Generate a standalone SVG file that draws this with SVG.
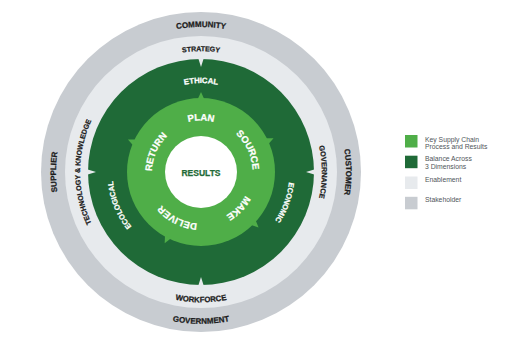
<svg xmlns="http://www.w3.org/2000/svg" xmlns:xlink="http://www.w3.org/1999/xlink" width="506" height="353" viewBox="0 0 506 353">
<style>
.lbl{font-family:"Liberation Sans",Arial,sans-serif;font-weight:bold;}
.dk{fill:#1c1c1c;stroke:#1c1c1c;stroke-width:0.25;}
.wh{fill:#ffffff;stroke:#ffffff;stroke-width:0.25;}
.leg{font-family:"Liberation Sans",Arial,sans-serif;font-size:6.8px;fill:#50555a;}
.stake{fill:#c8ccd1;}
.enab{fill:#e7eaed;}
.bal{fill:#1f6a37;}
.key{fill:#4fae48;}
</style>
<defs>
<path id="pCommunity" d="M56.1,159.3 A145.5,145.5 0 0 1 345.9,159.3"/>
<path id="pCustomer" d="M213.7,27.1 A145.5,145.5 0 0 1 213.7,316.9"/>
<path id="pSupplier" d="M188.3,316.9 A145.5,145.5 0 0 1 188.3,27.1"/>
<path id="pGovernment" d="M49.6,185.3 A152,152 0 0 0 352.4,185.3"/>
<path id="pStrategy" d="M80.2,161.4 A121.3,121.3 0 0 1 321.8,161.4"/>
<path id="pGovernance" d="M211.6,51.2 A121.3,121.3 0 0 1 211.6,292.8"/>
<path id="pTech" d="M190.4,292.8 A121.3,121.3 0 0 1 190.4,51.2"/>
<path id="pWorkforce" d="M71.2,183.4 A130.3,130.3 0 0 0 330.8,183.4"/>
<path id="pEthical" d="M112.8,164.3 A88.5,88.5 0 0 1 289.2,164.3"/>
<path id="pEconomic" d="M231.3,88.8 A88.5,88.5 0 0 1 170.7,255.2"/>
<path id="pEcological" d="M234.2,254.1 A88.5,88.5 0 0 1 167.8,89.9"/>
<path id="pPlan" d="M149.7,167.5 A51.5,51.5 0 0 1 252.3,167.5"/>
<path id="pSource" d="M179.2,125.3 A51.5,51.5 0 0 1 222.8,218.7"/>
<path id="pMake" d="M236.8,135.0 A51.5,51.5 0 0 1 165.2,209.0"/>
<path id="pDeliver" d="M246.9,195.4 A51.5,51.5 0 0 1 155.1,148.6"/>
<path id="pReturn" d="M180.1,219.0 A51.5,51.5 0 0 1 221.9,125.0"/>
<polygon id="notch" points="-2.8,-114 2.8,-114 0,-105" class="enab"/>
<polygon id="tip" points="-3.2,-73 3.2,-73 0,-80" class="key"/>
</defs>

<g id="stakeholder-ring">
<circle cx="201" cy="172" r="160" class="stake"/>
<text class="lbl dk" font-size="8"><textPath href="#pCommunity" startOffset="50%" text-anchor="middle">COMMUNITY</textPath></text>
<text class="lbl dk" font-size="8"><textPath href="#pCustomer" startOffset="50%" text-anchor="middle">CUSTOMER</textPath></text>
<text class="lbl dk" font-size="8"><textPath href="#pSupplier" startOffset="50%" text-anchor="middle">SUPPLIER</textPath></text>
<text class="lbl dk" font-size="8"><textPath href="#pGovernment" startOffset="50%" text-anchor="middle">GOVERNMENT</textPath></text>
</g>

<g id="enablement-ring">
<circle cx="201" cy="172" r="136" class="enab"/>
<text class="lbl dk" font-size="7"><textPath href="#pStrategy" startOffset="50%" text-anchor="middle">STRATEGY</textPath></text>
<text class="lbl dk" font-size="7.3"><textPath href="#pGovernance" startOffset="50%" text-anchor="middle">GOVERNANCE</textPath></text>
<text class="lbl dk" font-size="7.1"><textPath href="#pTech" startOffset="50%" text-anchor="middle">TECHNOLOGY &amp; KNOWLEDGE</textPath></text>
<text class="lbl dk" font-size="7.8"><textPath href="#pWorkforce" startOffset="50%" text-anchor="middle">WORKFORCE</textPath></text>
</g>

<g id="balance-ring">
<circle cx="201" cy="172" r="113" class="bal"/>
<use href="#notch" transform="translate(201,172) rotate(0)"/>
<use href="#notch" transform="translate(201,172) rotate(90)"/>
<use href="#notch" transform="translate(201,172) rotate(180)"/>
<use href="#notch" transform="translate(201,172) rotate(270)"/>
<text class="lbl wh" font-size="7.8"><textPath href="#pEthical" startOffset="50%" text-anchor="middle">ETHICAL</textPath></text>
<text class="lbl wh" font-size="7.5"><textPath href="#pEconomic" startOffset="50%" text-anchor="middle">ECONOMIC</textPath></text>
<text class="lbl wh" font-size="7.5"><textPath href="#pEcological" startOffset="50%" text-anchor="middle">ECOLOGICAL</textPath></text>
</g>

<g id="process-ring">
<circle cx="201" cy="172" r="74" class="key"/>
<use href="#tip" transform="translate(201,172) rotate(0)"/>
<use href="#tip" transform="translate(201,172) rotate(65)"/>
<use href="#tip" transform="translate(201,172) rotate(134)"/>
<use href="#tip" transform="translate(201,172) rotate(207)"/>
<use href="#tip" transform="translate(201,172) rotate(294)"/>
<text class="lbl wh" font-size="9.5"><textPath href="#pPlan" startOffset="50%" text-anchor="middle">PLAN</textPath></text>
<text class="lbl wh" font-size="9.5"><textPath href="#pSource" startOffset="50%" text-anchor="middle">SOURCE</textPath></text>
<text class="lbl wh" font-size="9.5"><textPath href="#pMake" startOffset="50%" text-anchor="middle">MAKE</textPath></text>
<text class="lbl wh" font-size="9.5"><textPath href="#pDeliver" startOffset="50%" text-anchor="middle">DELIVER</textPath></text>
<text class="lbl wh" font-size="9.5"><textPath href="#pReturn" startOffset="50%" text-anchor="middle">RETURN</textPath></text>
</g>

<g id="results">
<circle cx="201" cy="172" r="36" fill="#ffffff"/>
<text x="201" y="175.5" class="lbl" font-size="8.5" fill="#1f6a37" stroke="#1f6a37" stroke-width="0.25" text-anchor="middle">RESULTS</text>
</g>

<g id="legend">
<rect x="405" y="135" width="12.5" height="12.5" class="key"/>
<text class="leg" x="425" y="141.7">Key Supply Chain</text>
<text class="leg" x="425" y="149.2">Process and Results</text>
<rect x="405" y="155.7" width="12.5" height="12.5" class="bal"/>
<text class="leg" x="425" y="161.2">Balance Across</text>
<text class="leg" x="425" y="168.5">3 Dimensions</text>
<rect x="405" y="176.5" width="12.5" height="12.5" class="enab"/>
<text class="leg" x="425" y="181.8">Enablement</text>
<rect x="405" y="196.8" width="12.5" height="12.5" class="stake"/>
<text class="leg" x="425" y="202.4">Stakeholder</text>
</g>
</svg>
